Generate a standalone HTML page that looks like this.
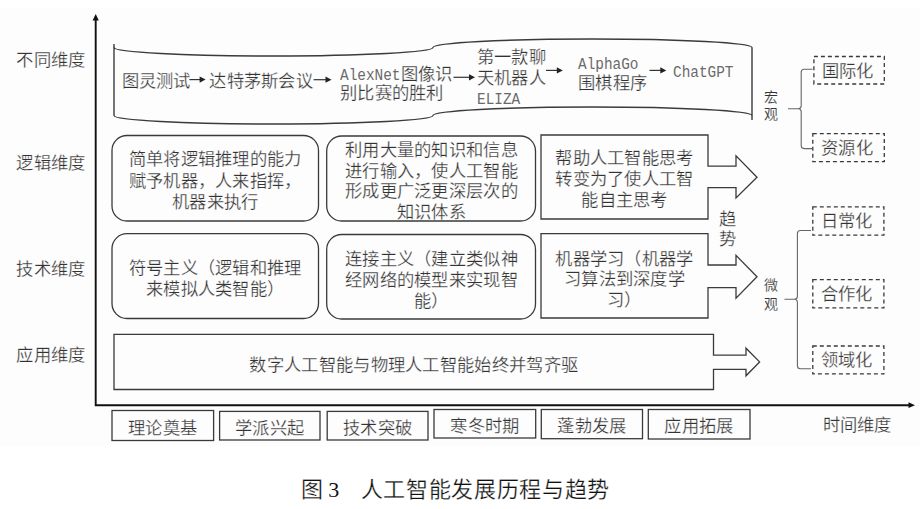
<!DOCTYPE html>
<html lang="zh-CN"><head><meta charset="utf-8">
<style>
html,body{margin:0;padding:0;}
body{width:920px;height:509px;position:relative;overflow:hidden;background:#fff;font-family:"Liberation Serif",serif;}
#bg{position:absolute;left:0;top:8px;width:920px;height:438px;background:#fdfdfd;}
svg{position:absolute;left:0;top:0;}
.t{position:absolute;white-space:nowrap;line-height:24px;font-family:"Liberation Serif",serif;-webkit-text-stroke:0.25px #fdfdfd;letter-spacing:0.3px;}
.mw{display:inline-block;}
.m{letter-spacing:0;display:inline-block;transform:scaleX(0.833);transform-origin:0 50%;font-family:"Liberation Mono",monospace;-webkit-text-stroke:0;color:#6a6a6a;}
</style></head><body>
<div id="bg"></div>
<svg width="920" height="509" viewBox="0 0 920 509">
<path d="M95.7,19 L95.7,405.2 L909,405.2" fill="none" stroke="#111" stroke-width="1.9" />
<path d="M95.7,14 L98.8,20.5 L92.6,20.5 Z" fill="#111"/>
<path d="M915,405.2 L908.5,402.3 L908.5,408.1 Z" fill="#111"/>
<path d="M114,47.5 A159.5,8.5 0 0 0 433,47.5 A159.5,8.5 0 0 1 752,47.5 L752,115.5 A159.5,8.5 0 0 0 433,115.5 A159.5,8.5 0 0 1 114,115.5 Z" fill="none" stroke="#3a3a3a" stroke-width="1.4" />
<path d="M114,44 L114,48 M752,115 L752,120" fill="none" stroke="#3a3a3a" stroke-width="1.4" />
<rect x="112" y="135.5" width="206.5" height="85.5" rx="15" ry="15" fill="none" stroke="#3a3a3a" stroke-width="1.3"/>
<rect x="326.7" y="136" width="208.8" height="85" rx="15" ry="15" fill="none" stroke="#3a3a3a" stroke-width="1.3"/>
<rect x="112" y="233.7" width="206.5" height="84.80000000000001" rx="15" ry="15" fill="none" stroke="#3a3a3a" stroke-width="1.3"/>
<rect x="326.7" y="234.5" width="208.8" height="84.5" rx="15" ry="15" fill="none" stroke="#3a3a3a" stroke-width="1.3"/>
<path d="M541,135 L708,135 L708,166.2 L736,166.2 L736,155.8 L757,177.2 L736,198 L736,187.6 L708,187.6 L708,219 L541,219 Z" fill="none" stroke="#3a3a3a" stroke-width="1.3" />
<path d="M541,233.7 L708,233.7 L708,265 L736,265 L736,255.4 L757,276.8 L736,298.2 L736,287.7 L708,287.7 L708,318 L541,318 Z" fill="none" stroke="#3a3a3a" stroke-width="1.3" />
<path d="M114,334.3 L713.5,334.3 L713.5,355.2 L746,355.2 L746,348.2 L759.6,361.9 L746,375.8 L746,369.4 L713.5,369.4 L713.5,389.5 L114,389.5 Z" fill="none" stroke="#3a3a3a" stroke-width="1.3" />
<rect x="112" y="410.5" width="101.6" height="30.0" fill="none" stroke="#3a3a3a" stroke-width="1.3"/>
<rect x="219.6" y="411.4" width="100.4" height="28.600000000000023" fill="none" stroke="#3a3a3a" stroke-width="1.3"/>
<rect x="327.2" y="411.4" width="100.80000000000001" height="28.600000000000023" fill="none" stroke="#3a3a3a" stroke-width="1.3"/>
<rect x="434" y="409.5" width="101.70000000000005" height="28.5" fill="none" stroke="#3a3a3a" stroke-width="1.3"/>
<rect x="541.3" y="409.5" width="101.20000000000005" height="29.19999999999999" fill="none" stroke="#3a3a3a" stroke-width="1.3"/>
<rect x="648.3" y="409.5" width="101.70000000000005" height="29.5" fill="none" stroke="#3a3a3a" stroke-width="1.3"/>
<rect x="813.9" y="56.5" width="70.39999999999998" height="27.5" fill="none" stroke="#3a3a3a" stroke-width="1.3" stroke-dasharray="4 3"/>
<rect x="812.8" y="133.6" width="71.5" height="28.099999999999994" fill="none" stroke="#3a3a3a" stroke-width="1.3" stroke-dasharray="4 3"/>
<rect x="812.8" y="206.9" width="71.10000000000002" height="28.299999999999983" fill="none" stroke="#3a3a3a" stroke-width="1.3" stroke-dasharray="4 3"/>
<rect x="812.8" y="279.6" width="71.10000000000002" height="28.299999999999955" fill="none" stroke="#3a3a3a" stroke-width="1.3" stroke-dasharray="4 3"/>
<rect x="812.8" y="346" width="71.10000000000002" height="27.899999999999977" fill="none" stroke="#3a3a3a" stroke-width="1.3" stroke-dasharray="4 3"/>
<path d="M812.5,69.3 L804.2,69.3 Q801.2,69.3 801.2,72.3 L801.2,105.8 Q801.2,108.8 798.2,108.8 L788,108.8 M798.2,108.8 Q801.2,108.8 801.2,111.8 L801.2,145.6 Q801.2,148.6 804.2,148.6 L812.5,148.6" fill="none" stroke="#666" stroke-width="1.1" />
<path d="M811,230.5 L800.4,230.5 Q797.4,230.5 797.4,233.5 L797.4,296.2 Q797.4,299.2 794.4,299.2 L784.5,299.2 M794.4,299.2 Q797.4,299.2 797.4,302.2 L797.4,365.8 Q797.4,368.8 800.4,368.8 L811,368.8" fill="none" stroke="#666" stroke-width="1.1" />
<path d="M189.4,79.6 L200.6,79.6" fill="none" stroke="#333" stroke-width="1.2" />
<path d="M199.6,76.5 L205.6,79.6 L199.6,82.69999999999999 Z" fill="#222"/>
<path d="M313.6,79.7 L326.5,79.7" fill="none" stroke="#333" stroke-width="1.2" />
<path d="M325.5,76.60000000000001 L331.5,79.7 L325.5,82.8 Z" fill="#222"/>
<path d="M453.5,77.3 L470,77.3" fill="none" stroke="#333" stroke-width="1.2" />
<path d="M469,74.2 L475,77.3 L469,80.39999999999999 Z" fill="#222"/>
<path d="M546,70.4 L557.8,70.4" fill="none" stroke="#333" stroke-width="1.2" />
<path d="M556.8,67.30000000000001 L562.8,70.4 L556.8,73.5 Z" fill="#222"/>
<path d="M649.5,70.4 L661.3,70.4" fill="none" stroke="#333" stroke-width="1.2" />
<path d="M660.3,67.30000000000001 L666.3,70.4 L660.3,73.5 Z" fill="#222"/>
</svg>
<div class="t" style="left:16.3px;top:48.7px;font-size:17.3px;color:#333;">不同维度</div>
<div class="t" style="left:16.3px;top:152.2px;font-size:17.3px;color:#333;">逻辑维度</div>
<div class="t" style="left:16.3px;top:257.8px;font-size:17.3px;color:#333;">技术维度</div>
<div class="t" style="left:16.3px;top:344.2px;font-size:17.3px;color:#333;">应用维度</div>
<div class="t" style="left:822.5px;top:413.5px;font-size:17.3px;color:#333;">时间维度</div>
<div class="t" style="left:121.5px;top:69.9px;font-size:17.3px;color:#333;">图灵测试</div>
<div class="t" style="left:209.3px;top:69.9px;font-size:17.3px;color:#333;">达特茅斯会议</div>
<div class="t" style="left:340.0px;top:62.9px;font-size:17.3px;color:#333;"><span class="mw" style="width:60.55px"><span class="m">AlexNet</span></span>图像识</div>
<div class="t" style="left:340.0px;top:82.0px;font-size:17.3px;color:#333;">别比赛的胜利</div>
<div class="t" style="left:476.7px;top:45.9px;font-size:17.3px;color:#333;">第一款聊</div>
<div class="t" style="left:476.7px;top:66.5px;font-size:17.3px;color:#333;">天机器人</div>
<div class="t" style="left:476.7px;top:87.1px;font-size:17.3px;color:#333;"><span class="mw" style="width:43.25px"><span class="m">ELIZA</span></span></div>
<div class="t" style="left:578.0px;top:52.0px;font-size:17.3px;color:#333;"><span class="mw" style="width:60.55px"><span class="m">AlphaGo</span></span></div>
<div class="t" style="left:578.0px;top:72.4px;font-size:17.3px;color:#333;">围棋程序</div>
<div class="t" style="left:673.3px;top:59.6px;font-size:17.3px;color:#333;"><span class="mw" style="width:60.55px"><span class="m">ChatGPT</span></span></div>
<div class="t" style="left:112.2px;top:148.2px;width:206px;text-align:center;font-size:17.3px;color:#333;">简单将逻辑推理的能力</div>
<div class="t" style="left:112.2px;top:169.7px;width:206px;text-align:center;font-size:17.3px;color:#333;">赋予机器，人来指挥，</div>
<div class="t" style="left:112.2px;top:191.2px;width:206px;text-align:center;font-size:17.3px;color:#333;">机器来执行</div>
<div class="t" style="left:328.5px;top:139.0px;width:206px;text-align:center;font-size:17.3px;color:#333;">利用大量的知识和信息</div>
<div class="t" style="left:328.5px;top:159.6px;width:206px;text-align:center;font-size:17.3px;color:#333;">进行输入，使人工智能</div>
<div class="t" style="left:328.5px;top:180.2px;width:206px;text-align:center;font-size:17.3px;color:#333;">形成更广泛更深层次的</div>
<div class="t" style="left:328.5px;top:200.8px;width:206px;text-align:center;font-size:17.3px;color:#333;">知识体系</div>
<div class="t" style="left:541.5px;top:146.8px;width:166px;text-align:center;font-size:17.3px;color:#333;">帮助人工智能思考</div>
<div class="t" style="left:541.5px;top:167.7px;width:166px;text-align:center;font-size:17.3px;color:#333;">转变为了使人工智</div>
<div class="t" style="left:541.5px;top:188.6px;width:166px;text-align:center;font-size:17.3px;color:#333;">能自主思考</div>
<div class="t" style="left:112.2px;top:256.9px;width:206px;text-align:center;font-size:17.3px;color:#333;">符号主义（逻辑和推理</div>
<div class="t" style="left:112.2px;top:277.7px;width:206px;text-align:center;font-size:17.3px;color:#333;">来模拟人类智能）</div>
<div class="t" style="left:328.5px;top:247.7px;width:206px;text-align:center;font-size:17.3px;color:#333;">连接主义（建立类似神</div>
<div class="t" style="left:328.5px;top:268.6px;width:206px;text-align:center;font-size:17.3px;color:#333;">经网络的模型来实现智</div>
<div class="t" style="left:328.5px;top:289.5px;width:206px;text-align:center;font-size:17.3px;color:#333;">能）</div>
<div class="t" style="left:541.5px;top:247.7px;width:166px;text-align:center;font-size:17.3px;color:#333;">机器学习（机器学</div>
<div class="t" style="left:541.5px;top:268.2px;width:166px;text-align:center;font-size:17.3px;color:#333;">习算法到深度学</div>
<div class="t" style="left:541.5px;top:288.7px;width:166px;text-align:center;font-size:17.3px;color:#333;">习）</div>
<div class="t" style="left:163.8px;top:353.5px;width:500px;text-align:center;font-size:17.3px;color:#333;">数字人工智能与物理人工智能始终并驾齐驱</div>
<div class="t" style="left:712.5px;top:207.5px;width:30px;text-align:center;font-size:17.3px;color:#333;">趋</div>
<div class="t" style="left:712.5px;top:228.2px;width:30px;text-align:center;font-size:17.3px;color:#333;">势</div>
<div class="t" style="left:756.5px;top:85.6px;width:30px;text-align:center;font-size:14px;color:#333;-webkit-text-stroke:0.15px #fdfdfd">宏</div>
<div class="t" style="left:756.5px;top:103.0px;width:30px;text-align:center;font-size:14px;color:#333;-webkit-text-stroke:0.15px #fdfdfd">观</div>
<div class="t" style="left:755.7px;top:273.5px;width:30px;text-align:center;font-size:14px;color:#333;-webkit-text-stroke:0.15px #fdfdfd">微</div>
<div class="t" style="left:755.7px;top:293.2px;width:30px;text-align:center;font-size:14px;color:#333;-webkit-text-stroke:0.15px #fdfdfd">观</div>
<div class="t" style="left:807.6px;top:59.5px;width:80px;text-align:center;font-size:17.3px;color:#333;">国际化</div>
<div class="t" style="left:807.0px;top:136.8px;width:80px;text-align:center;font-size:17.3px;color:#333;">资源化</div>
<div class="t" style="left:806.8px;top:210.2px;width:80px;text-align:center;font-size:17.3px;color:#333;">日常化</div>
<div class="t" style="left:806.8px;top:282.9px;width:80px;text-align:center;font-size:17.3px;color:#333;">合作化</div>
<div class="t" style="left:806.8px;top:349.1px;width:80px;text-align:center;font-size:17.3px;color:#333;">领域化</div>
<div class="t" style="left:112.8px;top:416.7px;width:100px;text-align:center;font-size:17.3px;color:#333;">理论奠基</div>
<div class="t" style="left:219.8px;top:416.9px;width:100px;text-align:center;font-size:17.3px;color:#333;">学派兴起</div>
<div class="t" style="left:327.6px;top:416.9px;width:100px;text-align:center;font-size:17.3px;color:#333;">技术突破</div>
<div class="t" style="left:434.9px;top:414.9px;width:100px;text-align:center;font-size:17.3px;color:#333;">寒冬时期</div>
<div class="t" style="left:541.9px;top:415.3px;width:100px;text-align:center;font-size:17.3px;color:#333;">蓬勃发展</div>
<div class="t" style="left:649.1px;top:415.4px;width:100px;text-align:center;font-size:17.3px;color:#333;">应用拓展</div>
<div class="t" style="left:301.2px;top:475px;font-size:22px;letter-spacing:0.45px;color:#111;line-height:30px">图<span style="font-family:'Liberation Serif',serif;margin-left:4.5px;-webkit-text-stroke:0">3</span></div>
<div class="t" style="left:360.5px;top:475px;font-size:22px;letter-spacing:0.7px;color:#111;line-height:30px">人工智能发展历程与趋势</div>
</body></html>
